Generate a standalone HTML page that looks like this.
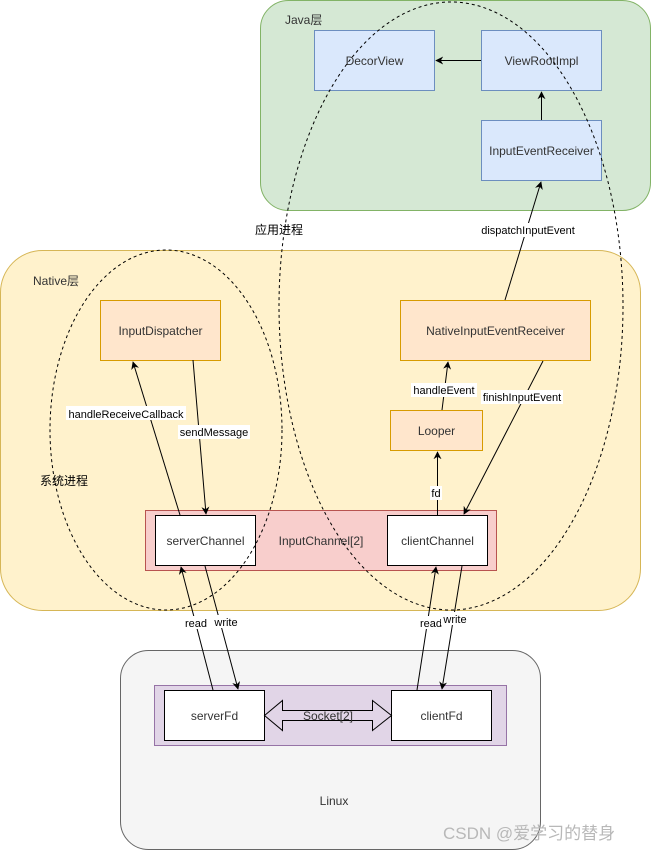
<!DOCTYPE html>
<html><head><meta charset="utf-8"><style>
html,body{margin:0;padding:0;background:#fff;}
svg{display:block;font-family:"Liberation Sans","Noto Sans CJK SC",sans-serif;}
</style></head><body>
<svg width="651" height="851" viewBox="0 0 651 851" xmlns="http://www.w3.org/2000/svg">
<defs>
<marker id="a" viewBox="0 0 10 10" refX="9" refY="5" markerWidth="8" markerHeight="8" orient="auto-start-reverse" markerUnits="userSpaceOnUse">
<path d="M0,0 L10,5 L0,10 L3,5 Z" fill="#000"/>
</marker>
</defs>
<!-- Java layer -->
<rect x="260.5" y="0.5" width="390" height="210" rx="28" fill="#d5e8d4" stroke="#82b366"/>
<text x="285" y="24" font-size="12" fill="#333">Java层</text>
<rect x="314.5" y="30.5" width="120" height="60" fill="#dae8fc" stroke="#6c8ebf"/>
<text x="374.5" y="65" font-size="12" text-anchor="middle" fill="#333">DecorView</text>
<rect x="481.5" y="30.5" width="120" height="60" fill="#dae8fc" stroke="#6c8ebf"/>
<text x="541.5" y="65" font-size="12" text-anchor="middle" fill="#333">ViewRootImpl</text>
<rect x="481.5" y="120.5" width="120" height="60" fill="#dae8fc" stroke="#6c8ebf"/>
<text x="541.5" y="155" font-size="12" text-anchor="middle" fill="#333">InputEventReceiver</text>
<line x1="481" y1="60.5" x2="436" y2="60.5" stroke="#000" marker-end="url(#a)"/>
<line x1="541.5" y1="120" x2="541.5" y2="92" stroke="#000" marker-end="url(#a)"/>

<!-- Native layer -->
<rect x="0.5" y="250.5" width="640" height="360" rx="42" fill="#fff2cc" stroke="#d6b656"/>
<text x="33" y="285" font-size="12" fill="#333">Native层</text>
<rect x="100.5" y="300.5" width="120" height="60" fill="#ffe6cc" stroke="#d79b00"/>
<text x="160.5" y="335" font-size="12" text-anchor="middle" fill="#333">InputDispatcher</text>
<rect x="400.5" y="300.5" width="190" height="60" fill="#ffe6cc" stroke="#d79b00"/>
<text x="495.5" y="335" font-size="12" text-anchor="middle" fill="#333">NativeInputEventReceiver</text>
<rect x="390.5" y="410.5" width="92" height="40" fill="#ffe6cc" stroke="#d79b00"/>
<text x="436.5" y="435" font-size="12" text-anchor="middle" fill="#333">Looper</text>
<rect x="145.5" y="510.5" width="351" height="60" fill="#f8cecc" stroke="#b85450"/>
<text x="321" y="545" font-size="12" text-anchor="middle" fill="#333">InputChannel[2]</text>
<rect x="155.5" y="515.5" width="100" height="50" fill="#fff" stroke="#000"/>
<text x="205.5" y="545" font-size="12" text-anchor="middle" fill="#333">serverChannel</text>
<rect x="387.5" y="515.5" width="100" height="50" fill="#fff" stroke="#000"/>
<text x="437.5" y="545" font-size="12" text-anchor="middle" fill="#333">clientChannel</text>

<!-- Linux -->
<rect x="120.5" y="650.5" width="420" height="199" rx="28" fill="#f5f5f5" stroke="#666"/>
<text x="334" y="805" font-size="12" text-anchor="middle" fill="#333">Linux</text>
<rect x="154.5" y="685.5" width="352" height="60" fill="#e1d5e7" stroke="#9673a6"/>
<rect x="164.5" y="690.5" width="100" height="50" fill="#fff" stroke="#000"/>
<text x="214.5" y="720" font-size="12" text-anchor="middle" fill="#333">serverFd</text>
<rect x="391.5" y="690.5" width="100" height="50" fill="#fff" stroke="#000"/>
<text x="441.5" y="720" font-size="12" text-anchor="middle" fill="#333">clientFd</text>
<path d="M264.5,715.5 L282.5,700.5 L282.5,710.5 L372.5,710.5 L372.5,700.5 L391.5,715.5 L372.5,730.5 L372.5,720.5 L282.5,720.5 L282.5,730.5 Z" fill="none" stroke="#000"/>
<text x="328" y="720" font-size="12" text-anchor="middle" fill="#333">Socket[2]</text>

<!-- ellipses -->
<ellipse cx="166" cy="430" rx="116" ry="180" fill="none" stroke="#000" stroke-dasharray="3,3"/>
<ellipse cx="451" cy="306" rx="172" ry="304" fill="none" stroke="#000" stroke-dasharray="3,3"/>
<text x="255" y="234" font-size="12" fill="#000">应用进程</text>
<text x="40" y="485" font-size="12" fill="#000">系统进程</text>

<!-- edges -->
<g stroke="#000" fill="none">
<line x1="180" y1="515" x2="133" y2="362" marker-end="url(#a)"/>
<line x1="193" y1="360" x2="206" y2="514" marker-end="url(#a)"/>
<line x1="442" y1="410" x2="448" y2="362" marker-end="url(#a)"/>
<line x1="543" y1="361" x2="464" y2="514" marker-end="url(#a)"/>
<line x1="437.5" y1="515" x2="437.5" y2="452" marker-end="url(#a)"/>
<line x1="505" y1="300" x2="541" y2="182" marker-end="url(#a)"/>
<line x1="213" y1="690" x2="181" y2="567" marker-end="url(#a)"/>
<line x1="205" y1="566" x2="238" y2="689" marker-end="url(#a)"/>
<line x1="417" y1="690" x2="436" y2="567" marker-end="url(#a)"/>
<line x1="462" y1="566" x2="442" y2="689" marker-end="url(#a)"/>
</g>
<g font-size="11" fill="#000" text-anchor="middle">
<rect x="66" y="406" width="120" height="14" fill="#fff"/>
<text x="126" y="418">handleReceiveCallback</text>
<rect x="178" y="425" width="72" height="14" fill="#fff"/>
<text x="214" y="436">sendMessage</text>
<rect x="411" y="383" width="66" height="14" fill="#fff"/>
<text x="444" y="394">handleEvent</text>
<rect x="481" y="390" width="82" height="14" fill="#fff"/>
<text x="522" y="401">finishInputEvent</text>
<rect x="430" y="486" width="12" height="14" fill="#fff"/>
<text x="436" y="497">fd</text>
<rect x="478" y="223" width="100" height="14" fill="#fff"/>
<text x="528" y="234">dispatchInputEvent</text>
<rect x="182" y="616" width="28" height="13" fill="#fff"/>
<text x="196" y="627">read</text>
<rect x="212" y="615" width="28" height="13" fill="#fff"/>
<text x="226" y="626">write</text>
<rect x="417" y="616" width="28" height="13" fill="#fff"/>
<text x="431" y="627">read</text>
<rect x="441" y="612" width="28" height="13" fill="#fff"/>
<text x="455" y="623">write</text>
</g>
<text x="443" y="839" font-size="17" fill="#b8b8b8">CSDN @爱学习的替身</text>
</svg>
</body></html>
